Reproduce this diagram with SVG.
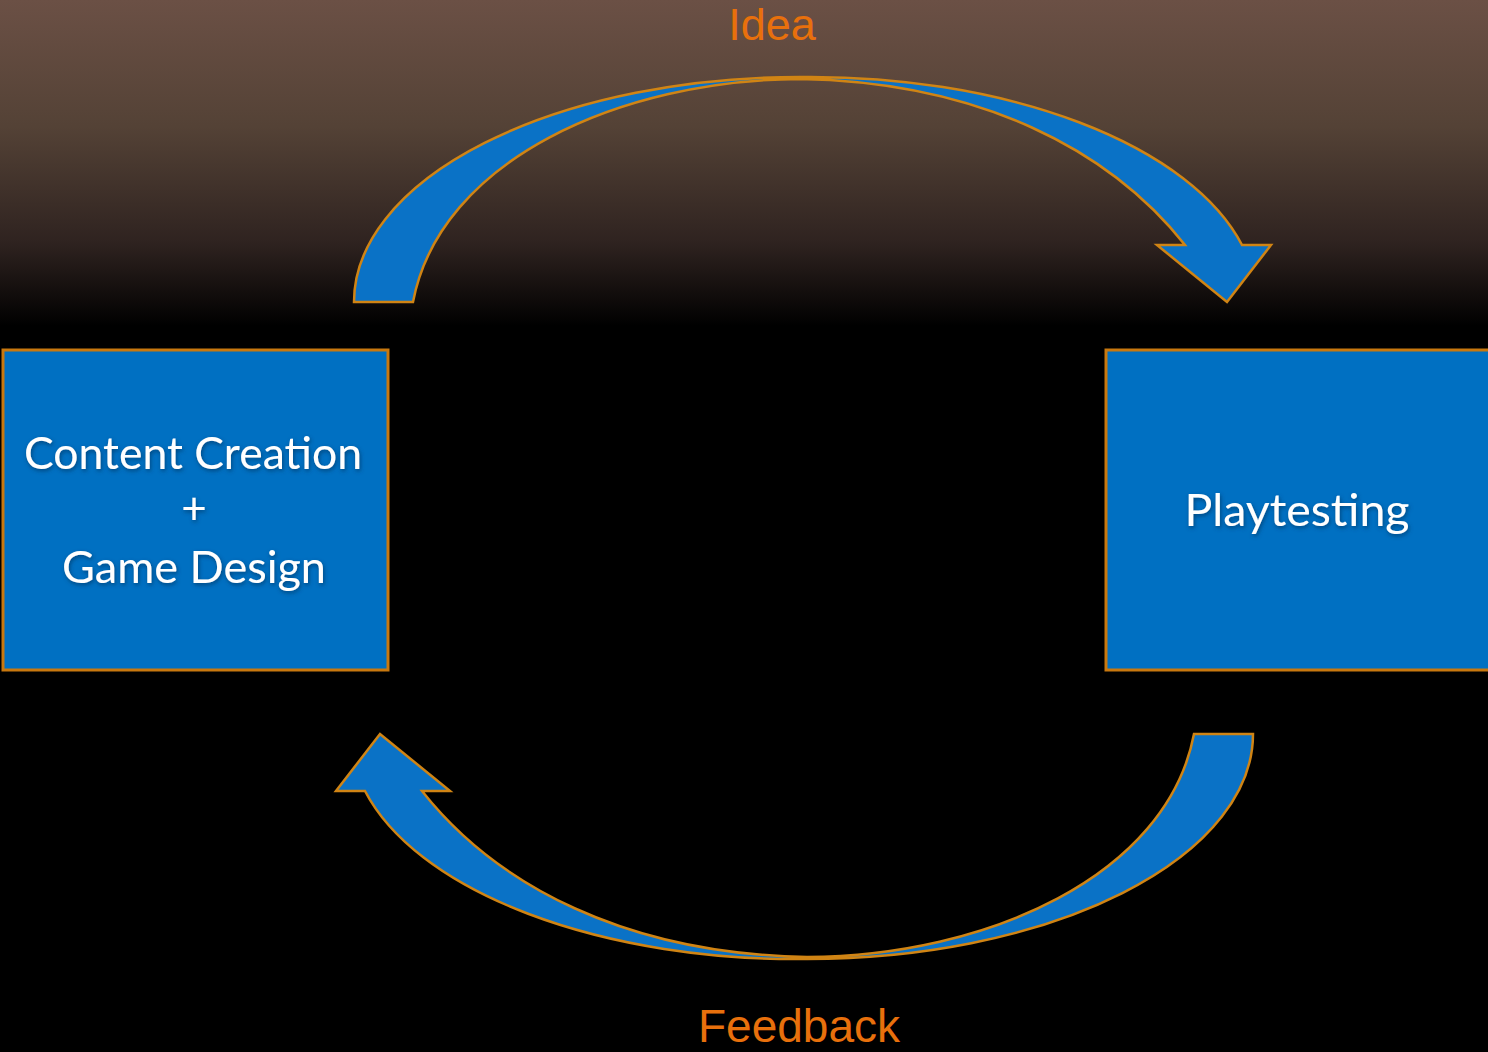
<svg xmlns="http://www.w3.org/2000/svg" width="1488" height="1052" viewBox="0 0 1488 1052">
  <defs>
    <linearGradient id="bg" x1="0" y1="0" x2="0" y2="1052" gradientUnits="userSpaceOnUse">
      <stop offset="0" stop-color="#6b5045"/>
      <stop offset="0.12" stop-color="#544236"/>
      <stop offset="0.23" stop-color="#2f2320"/>
      <stop offset="0.31" stop-color="#000000"/>
      <stop offset="1" stop-color="#000000"/>
    </linearGradient>
    <filter id="sh" x="-10%" y="-30%" width="120%" height="160%">
      <feGaussianBlur in="SourceAlpha" stdDeviation="2"/>
      <feOffset dx="1" dy="2" result="b"/>
      <feFlood flood-color="#003a6a" flood-opacity="0.8"/>
      <feComposite in2="b" operator="in"/>
      <feMerge><feMergeNode/><feMergeNode in="SourceGraphic"/></feMerge>
    </filter>
  </defs>
  <style>
    .box { fill: #0070c2; stroke: #c8780f; stroke-width: 3; }
    .arrow { fill: #0a72c6; stroke: #d08414; stroke-width: 2.5; stroke-linejoin: miter; }
    .nodetext { fill: #ffffff; font-family: Lato, "Open Sans", "Liberation Sans", sans-serif; font-size: 44px; text-anchor: middle; }
    .label { fill: #e8700c; font-family: "Liberation Sans", Arial, sans-serif; text-anchor: middle; }
  </style>
  <rect x="0" y="0" width="1488" height="1052" fill="url(#bg)"/>

  <g id="connectors">
    <g id="idea-arrow">
      <path class="arrow" d="M 354 302 A 446 225 0 0 1 800 77 A 446 225 0 0 1 1242 245 L 1271 245 L 1227 302 L 1157 245 L 1185 245 C 1110 150 980 82 800 79 C 620 80 440 160 413 302 Z"/>
    </g>
    <g id="feedback-arrow" transform="rotate(180 803.5 518)">
      <path class="arrow" d="M 354 302 A 446 225 0 0 1 800 77 A 446 225 0 0 1 1242 245 L 1271 245 L 1227 302 L 1157 245 L 1185 245 C 1110 150 980 82 800 79 C 620 80 440 160 413 302 Z"/>
    </g>
    <text class="label" x="772" y="40" font-size="45">Idea</text>
    <text class="label" x="799" y="1042" font-size="46">Feedback</text>
  </g>

  <g id="node-content-creation">
    <rect class="box" x="3" y="350" width="385" height="320"/>
    <g filter="url(#sh)">
      <text class="nodetext" x="193" y="469" textLength="338" lengthAdjust="spacingAndGlyphs">Content Creation</text>
      <text class="nodetext" x="194" y="524">+</text>
      <text class="nodetext" x="194" y="583" textLength="264" lengthAdjust="spacingAndGlyphs">Game Design</text>
    </g>
  </g>

  <g id="node-playtesting">
    <rect class="box" x="1106" y="350" width="386" height="320"/>
    <g filter="url(#sh)">
      <text class="nodetext" x="1297" y="526" textLength="225" lengthAdjust="spacingAndGlyphs">Playtesting</text>
    </g>
  </g>
</svg>
